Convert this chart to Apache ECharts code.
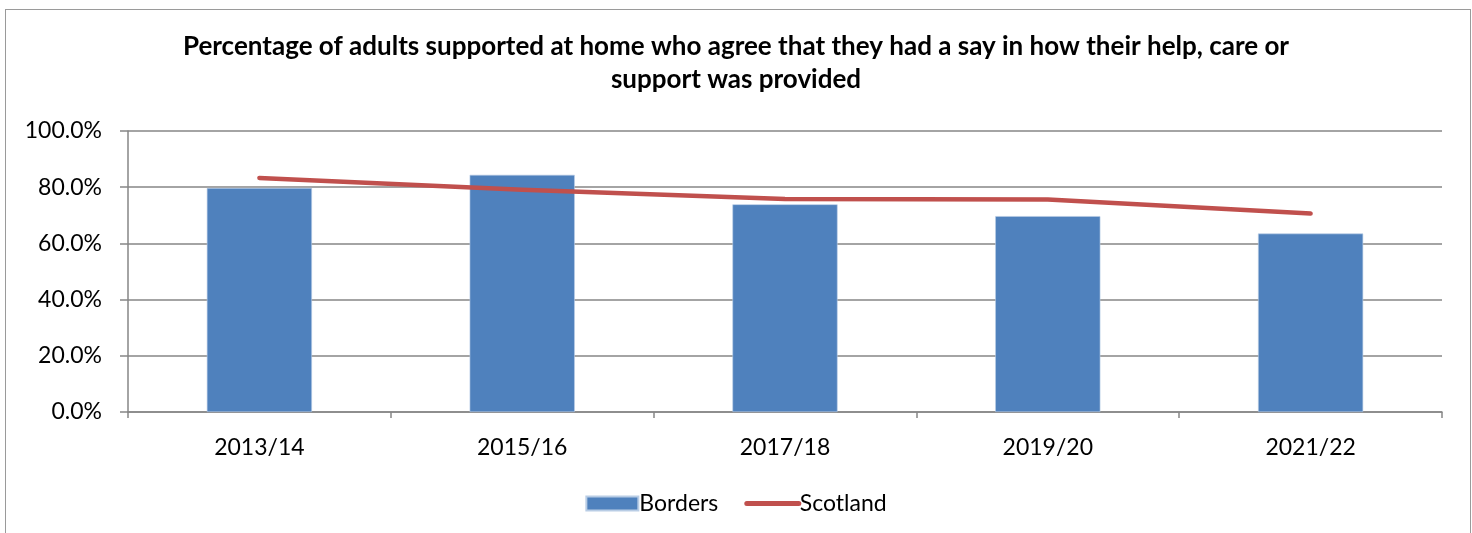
<!DOCTYPE html>
<html>
<head>
<meta charset="utf-8">
<script src="https://cdn.jsdelivr.net/npm/echarts@6/dist/echarts.min.js"></script>
<style>
  html, body { margin: 0; padding: 0; background: #fff; }
  #frame { position: absolute; left: 5px; top: 9px; width: 1466px; height: 530px; border: 1px solid #9a9a9a; box-sizing: border-box; }
  #chart { width: 1472px; height: 533px; position: absolute; left: 0; top: 0; }
</style>
</head>
<body>
<div id="frame"></div>
<div id="chart"></div>
<script>
// Survey years and results (percent agreeing)
const years = ['2013/14', '2015/16', '2017/18', '2019/20', '2021/22'];
const borders = [79.7, 84.4, 73.9, 69.7, 63.5];
const scotland = [83.3, 79.1, 75.8, 75.6, 70.6];
const titleText = 'Percentage of adults supported at home who agree that they had a say in how their help, care or\nsupport was provided';

const FONT = 'Lato';
const chart = echarts.init(document.getElementById('chart'), null, { renderer: 'canvas' });
chart.setOption({
  animation: false,
  backgroundColor: 'transparent',
  title: {
    text: titleText,
    left: 'center',
    top: 25,
    textStyle: { fontFamily: FONT, fontWeight: 'bold', fontSize: 26, lineHeight: 33, color: '#000' }
  },
  legend: {
    bottom: 13,
    left: 'center',
    itemGap: 26,
    itemWidth: 52,
    itemHeight: 14,
    textStyle: { fontFamily: FONT, fontSize: 23, color: '#000', padding: [0, 0, 0, -4] },
    data: [
      { name: 'Borders', icon: 'rect' },
      { name: 'Scotland', itemStyle: { opacity: 0 }, lineStyle: { width: 5, cap: 'round' } }
    ]
  },
  grid: { left: 128, right: 30, top: 131, bottom: 121 },
  xAxis: {
    type: 'category',
    data: years,
    axisLine: { lineStyle: { color: '#868686', width: 1.5 } },
    axisTick: { show: true, length: 6, lineStyle: { color: '#868686', width: 1.5 } },
    axisLabel: { fontFamily: FONT, fontSize: 23, color: '#000', margin: 24 }
  },
  yAxis: {
    type: 'value',
    min: 0,
    max: 100,
    interval: 20,
    axisLine: { show: true, lineStyle: { color: '#868686', width: 1.5 } },
    axisTick: { show: true, length: 8, lineStyle: { color: '#868686', width: 1.5 } },
    splitLine: { lineStyle: { color: '#868686', width: 1.5 } },
    axisLabel: { fontFamily: FONT, fontSize: 23, color: '#000', margin: 26, formatter: v => v.toFixed(1) + '%' }
  },
  series: [
    {
      name: 'Borders',
      type: 'bar',
      data: borders,
      barCategoryGap: '60%',
      itemStyle: { color: '#4F81BD', borderColor: '#b9cde5', borderWidth: 0.6 }
    },
    {
      name: 'Scotland',
      type: 'line',
      data: scotland,
      symbol: 'none',
      lineStyle: { color: '#C0504D', width: 4.5, cap: 'round', join: 'round' },
      itemStyle: { color: '#C0504D' }
    }
  ]
});
</script>
</body>
</html>
